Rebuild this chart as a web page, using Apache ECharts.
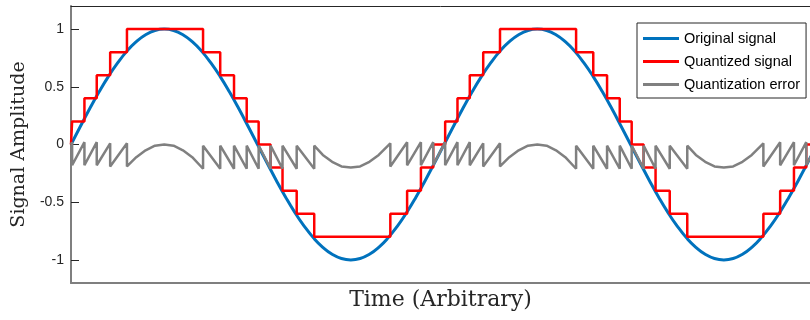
<!DOCTYPE html>
<html>
<head>
<meta charset="utf-8">
<script src="https://cdn.jsdelivr.net/npm/echarts@6/dist/echarts.min.js"></script>
<style>
  html, body { margin: 0; background: #fff; }
  #chart { width: 810px; height: 320px; }
</style>
</head>
<body>
<div id="chart"></div>
<script>
// sample times of the original sine (one period = 1 time unit)
const sineTime = [
  0, 0.025, 0.05, 0.075, 0.1, 0.125, 0.15, 0.175, 0.2, 0.225,
  0.25, 0.275, 0.3, 0.325, 0.35, 0.375, 0.4, 0.425, 0.45, 0.475,
  0.5, 0.525, 0.55, 0.575, 0.6, 0.625, 0.65, 0.675, 0.7, 0.725,
  0.75, 0.775, 0.8, 0.825, 0.85, 0.875, 0.9, 0.925, 0.95, 0.975,
  1, 1.025, 1.05, 1.075, 1.1, 1.125, 1.15, 1.175, 1.2, 1.225,
  1.25, 1.275, 1.3, 1.325, 1.35, 1.375, 1.4, 1.425, 1.45, 1.475,
  1.5, 1.525, 1.55, 1.575, 1.6, 1.625, 1.65, 1.675, 1.7, 1.725,
  1.75, 1.775, 1.8, 1.825, 1.85, 1.875, 1.9, 1.925, 1.95, 1.975,
  2
];
const original = [
  0, 0.156, 0.309, 0.454, 0.588, 0.707, 0.809, 0.891, 0.951, 0.988,
  1, 0.988, 0.951, 0.891, 0.809, 0.707, 0.588, 0.454, 0.309, 0.156,
  0, -0.156, -0.309, -0.454, -0.588, -0.707, -0.809, -0.891, -0.951, -0.988,
  -1, -0.988, -0.951, -0.891, -0.809, -0.707, -0.588, -0.454, -0.309, -0.156,
  0, 0.156, 0.309, 0.454, 0.588, 0.707, 0.809, 0.891, 0.951, 0.988,
  1, 0.988, 0.951, 0.891, 0.809, 0.707, 0.588, 0.454, 0.309, 0.156,
  0, -0.156, -0.309, -0.454, -0.588, -0.707, -0.809, -0.891, -0.951, -0.988,
  -1, -0.988, -0.951, -0.891, -0.809, -0.707, -0.588, -0.454, -0.309, -0.156,
  0
];

// quantized signal: level that starts at each time
const quantTime = [
  0, 0.003, 0.036, 0.069, 0.105, 0.15,
  0.354, 0.4, 0.437, 0.471, 0.503,
  0.535, 0.567, 0.605, 0.652,
  0.856, 0.901, 0.938, 0.971,
  1.003, 1.036, 1.069, 1.105, 1.15,
  1.354, 1.4, 1.437, 1.471, 1.503,
  1.535, 1.567, 1.605, 1.652,
  1.856, 1.901, 1.938, 1.971,
  2
];
const quantized = [
  0, 0.2, 0.4, 0.6, 0.8, 1,
  0.8, 0.6, 0.4, 0.2, 0,
  -0.2, -0.4, -0.6, -0.8,
  -0.6, -0.4, -0.2, 0,
  0.2, 0.4, 0.6, 0.8, 1,
  0.8, 0.6, 0.4, 0.2, 0,
  -0.2, -0.4, -0.6, -0.8,
  -0.6, -0.4, -0.2, 0,
  0
];

// quantization error (sawtooth on the slopes, arcs at peaks and troughs)
const errorTime = [
  0, 0.003, 0.003, 0.036, 0.036, 0.069, 0.069, 0.105, 0.105, 0.15, 0.15,
  0.175, 0.2, 0.225, 0.25, 0.275, 0.3, 0.325,
  0.354, 0.354, 0.4, 0.4, 0.437, 0.437, 0.471, 0.471, 0.503, 0.503,
  0.535, 0.535, 0.567, 0.567, 0.605, 0.605, 0.652, 0.652,
  0.675, 0.7, 0.725, 0.75, 0.775, 0.8, 0.825,
  0.856, 0.856, 0.901, 0.901, 0.938, 0.938, 0.971, 0.971,
  1.003, 1.003, 1.036, 1.036, 1.069, 1.069, 1.105, 1.105, 1.15, 1.15,
  1.175, 1.2, 1.225, 1.25, 1.275, 1.3, 1.325,
  1.354, 1.354, 1.4, 1.4, 1.437, 1.437, 1.471, 1.471, 1.503, 1.503,
  1.535, 1.535, 1.567, 1.567, 1.605, 1.605, 1.652, 1.652,
  1.675, 1.7, 1.725, 1.75, 1.775, 1.8, 1.825,
  1.856, 1.856, 1.901, 1.901, 1.938, 1.938, 1.971, 1.971,
  2
];
const error = [
  0, 0.02, -0.18, 0.02, -0.18, 0.02, -0.18, 0.01, -0.19, 0.01, -0.19,
  -0.11, -0.05, -0.01, 0, -0.01, -0.05, -0.11,
  -0.21, -0.01, -0.21, -0.01, -0.21, -0.01, -0.21, -0.01, -0.21, -0.01,
  -0.21, -0.01, -0.21, -0.01, -0.21, -0.01, -0.21, -0.01,
  -0.09, -0.15, -0.19, -0.2, -0.19, -0.15, -0.09,
  0.01, -0.19, 0.02, -0.18, 0.02, -0.18, 0.02, -0.18,
  0.02, -0.18, 0.02, -0.18, 0.02, -0.18, 0.01, -0.19, 0.01, -0.19,
  -0.11, -0.05, -0.01, 0, -0.01, -0.05, -0.11,
  -0.21, -0.01, -0.21, -0.01, -0.21, -0.01, -0.21, -0.01, -0.21, -0.01,
  -0.21, -0.01, -0.21, -0.01, -0.21, -0.01, -0.21, -0.01,
  -0.09, -0.15, -0.19, -0.2, -0.19, -0.15, -0.09,
  0.01, -0.19, 0.02, -0.18, 0.02, -0.18, 0.02, -0.18,
  0
];

const yTicks = [-1, -0.5, 0, 0.5, 1];
const seriesNames = ["Original signal", "Quantized signal", "Quantization error"];
const tMax = 1.981;

const pair = (xs, ys) => xs.map((x, i) => [x, ys[i]]);

const chart = echarts.init(document.getElementById("chart"));

chart.setOption({
  animation: false,
  grid: { left: 71, right: 0, top: 6, bottom: 37 },
  legend: {
    data: seriesNames,
    orient: "vertical",
    left: 637,
    top: 23,
    padding: [8, 6, 6, 6],
    itemGap: 8,
    itemWidth: 36,
    itemHeight: 3,
    icon: "rect",
    backgroundColor: "#fff",
    borderColor: "#262626",
    borderWidth: 1,
    borderRadius: 0,
    textStyle: { fontFamily: "Liberation Sans", fontSize: 14.5, color: "#000" }
  },
  xAxis: [
    {
      type: "value",
      min: 0,
      max: tMax,
      position: "bottom",
      axisLine: { show: true, onZero: false, lineStyle: { color: "#7f7f7f", width: 2 } },
      axisTick: { show: false },
      axisLabel: { show: false },
      splitLine: { show: false },
      name: "Time (Arbitrary)",
      nameLocation: "middle",
      nameGap: 6,
      nameTextStyle: { fontFamily: "DejaVu Serif", fontSize: 22, color: "#262626" }
    },
    {
      type: "value",
      min: 0,
      max: tMax,
      position: "top",
      axisLine: { show: true, onZero: false, lineStyle: { color: "#262626", width: 1 } },
      axisTick: { show: false },
      axisLabel: { show: false },
      splitLine: { show: false }
    }
  ],
  yAxis: {
    type: "value",
    min: -1.2,
    max: 1.2,
    axisLine: { show: true, onZero: false, lineStyle: { color: "#7f7f7f", width: 2 } },
    axisTick: {
      show: true,
      inside: true,
      length: 8,
      customValues: yTicks,
      lineStyle: { color: "#262626", width: 1 }
    },
    axisLabel: {
      customValues: yTicks,
      margin: 7,
      color: "#262626",
      fontFamily: "Liberation Sans",
      fontSize: 14
    },
    splitLine: { show: false },
    name: "Signal Amplitude",
    nameLocation: "middle",
    nameGap: 38,
    nameTextStyle: { fontFamily: "DejaVu Serif", fontSize: 19, color: "#262626" }
  },
  series: [
    {
      name: seriesNames[0],
      type: "line",
      data: pair(sineTime, original),
      smooth: true,
      symbol: "none",
      color: "#0072BD",
      lineStyle: { color: "#0072BD", width: 3 }
    },
    {
      name: seriesNames[1],
      type: "line",
      data: pair(quantTime, quantized),
      step: "end",
      symbol: "none",
      color: "#FF0000",
      lineStyle: { color: "#FF0000", width: 2.5 }
    },
    {
      name: seriesNames[1 + 1],
      type: "line",
      data: pair(errorTime, error),
      symbol: "none",
      color: "#808080",
      lineStyle: { color: "#808080", width: 2.5 }
    }
  ]
});
</script>
</body>
</html>
